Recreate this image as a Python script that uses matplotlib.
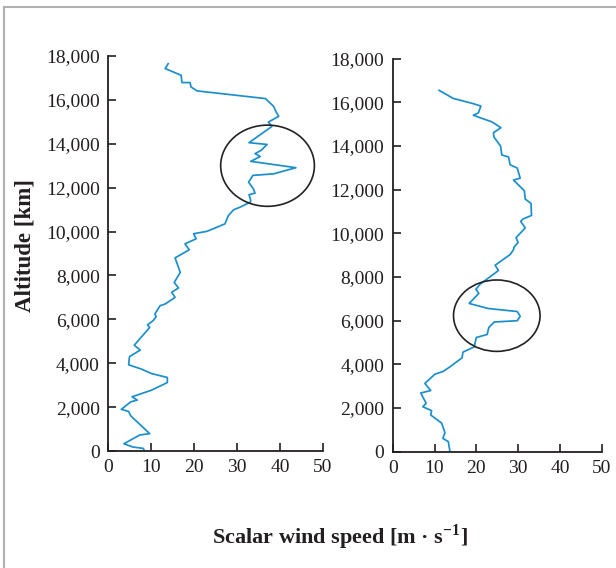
"""
Scalar wind speed profiles vs altitude, two soundings side by side.
Output: out.png
"""

import matplotlib
matplotlib.use('Agg')
import matplotlib.pyplot as plt
from matplotlib.patches import Ellipse
from matplotlib.lines import Line2D
from matplotlib.ticker import FuncFormatter

# ─────────────────────────────────────────────────────────────────────────────
# STYLE
# ─────────────────────────────────────────────────────────────────────────────
plt.rcParams['font.family'] = ['Liberation Serif', 'DejaVu Serif']
plt.rcParams['mathtext.fontset'] = 'custom'
plt.rcParams['mathtext.rm'] = 'Liberation Serif'
plt.rcParams['mathtext.bf'] = 'Liberation Serif:bold'

LINE_COLOR = "#1b8fcc"
TEXT_COLOR = "#231f20"
AXIS_COLOR = "#231f20"
FRAME_COLOR = "#b0b0b0"

# ─────────────────────────────────────────────────────────────────────────────
# DATA
# ─────────────────────────────────────────────────────────────────────────────
left_speed = [8.5, 8.2, 5.8, 3.7, 7.4, 9.7, 5.3, 4.8, 3.1, 5.3, 6.8, 5.6,
              10.1, 13.8, 13.8, 10.1, 7.8, 4.8, 5.0, 7.5, 6.1, 9.7, 9.2,
              10.5, 11.2, 10.9, 12.1, 13.3, 15.6, 14.8, 16.4, 15.4, 16.8,
              15.6, 18.9, 17.9, 20.5, 19.9, 23.0, 27.2, 28.0, 29.2, 30.7,
              33.1, 33.2, 32.8, 34.2, 33.8, 32.7, 33.7, 38.5, 43.7, 33.2,
              35.4, 34.2, 35.6, 37.0, 32.8, 38.1, 37.3, 39.7, 39.1, 38.5,
              36.6, 20.7, 19.3, 19.1, 17.2, 17.0, 13.3, 14.0]
left_alt = [0, 120, 180, 330, 730, 790, 1600, 1800, 1900, 2240, 2320, 2470,
            2770, 3120, 3350, 3530, 3730, 3930, 4300, 4600, 4820, 5630, 5750,
            5940, 6120, 6240, 6620, 6700, 7000, 7230, 7430, 7680, 8140,
            8800, 9170, 9440, 9670, 9900, 10010, 10350, 10730, 10990, 11110,
            11340, 11420, 11680, 11750, 11950, 12250, 12560, 12630, 12910, 13200,
            13420, 13550, 13700, 13970, 14050, 14790, 14990, 15250, 15450, 15710,
            16060, 16410, 16590, 16790, 16790, 17120, 17430, 17650]

right_speed = [13.7, 13.3, 12.0, 12.5, 11.7, 9.1, 9.3, 7.2, 8.0, 6.7, 9.1,
               7.7, 10.1, 12.1, 14.1, 14.9, 16.6, 16.8, 19.5, 20.0, 22.6,
               23.0, 24.3, 29.8, 30.5, 29.8, 22.8, 18.3, 20.6, 19.9, 20.9,
               25.3, 24.5, 28.1, 28.9, 29.0, 30.0, 29.5, 31.7, 30.6, 31.2,
               33.2, 33.1, 31.7, 31.5, 28.9, 30.5, 29.8, 28.1, 27.7, 26.1,
               25.8, 24.2, 24.1, 25.9, 23.7, 21.3, 19.3, 20.5, 21.1, 19.3,
               14.5, 11.1]
right_alt = [0, 460, 610, 870, 1310, 1680, 1880, 2060, 2220, 2690, 2800,
             3130, 3550, 3680, 3940, 4060, 4300, 4560, 4800, 5230, 5370,
             5690, 5940, 6000, 6200, 6420, 6560, 6790, 7250, 7440, 7670,
             8300, 8540, 9030, 9250, 9360, 9590, 9800, 10250, 10550, 10660,
             10820, 11370, 11570, 11950, 12440, 12530, 12990, 13140, 13500, 13590,
             14000, 14420, 14610, 14840, 15110, 15270, 15410, 15520, 15830, 15940,
             16180, 16550]

# highlighted anomalies: (centre speed, centre altitude, width, height)
left_circle = (37.1, 13000, 21.8, 3700)
right_circle = (24.9, 6230, 20.7, 3270)

x_ticks = [0, 10, 20, 30, 40, 50]
y_ticks = [0, 2000, 4000, 6000, 8000, 10000, 12000, 14000, 16000, 18000]


# ─────────────────────────────────────────────────────────────────────────────
# HELPER
# ─────────────────────────────────────────────────────────────────────────────
def style_ax(ax):
    ax.set_xlim(0, 50)
    ax.set_ylim(0, 18000)
    ax.set_xticks(x_ticks)
    ax.set_yticks(y_ticks)
    ax.yaxis.set_major_formatter(FuncFormatter(lambda v, p: f"{int(v):,}"))
    for side in ('top', 'right'):
        ax.spines[side].set_visible(False)
    for side in ('left', 'bottom'):
        ax.spines[side].set_color(AXIS_COLOR)
        ax.spines[side].set_linewidth(1.3)
    ax.tick_params(direction='in', length=6, width=1.2, colors=AXIS_COLOR,
                   labelcolor=TEXT_COLOR, labelsize=14)
    ax.tick_params(axis='y', pad=6)
    ax.tick_params(axis='x', pad=6)
    ax.patch.set_alpha(0)


def draw_circle(ax, c):
    ax.add_patch(Ellipse((c[0], c[1]), c[2], c[3], fill=False,
                         edgecolor="#222222", lw=1.2, zorder=3))


# ─────────────────────────────────────────────────────────────────────────────
# FIGURE
# ─────────────────────────────────────────────────────────────────────────────
fig = plt.figure(figsize=(6.16, 5.68), dpi=100, facecolor='white')

ax1 = fig.add_axes([108 / 616, 1 - 451 / 568, 215 / 616, 395 / 568])
ax2 = fig.add_axes([392.7 / 616, 1 - 451.7 / 568, 209 / 616, 393 / 568])

for ax, sp, alt, circ in ((ax1, left_speed, left_alt, left_circle),
                          (ax2, right_speed, right_alt, right_circle)):
    style_ax(ax)
    ax.plot(sp, alt, color=LINE_COLOR, lw=1.25, zorder=2)
    draw_circle(ax, circ)

fig.text(25 / 616, 1 - 246 / 568, "Altitude [km]", rotation=90,
         ha='center', va='center', fontsize=16.5, fontweight='bold',
         color=TEXT_COLOR)
fig.text(340 / 616, 1 - 537 / 568,
         r"Scalar wind speed [m · s$^{\mathbf{-1}}$]",
         ha='center', va='center', fontsize=16, fontweight='bold',
         color=TEXT_COLOR)

# thin frame (top and left edges visible in the source)
fig.add_artist(Line2D([4 / 616, 4 / 616], [0, 1 - 7 / 568],
                      transform=fig.transFigure, color=FRAME_COLOR, lw=1.5))
fig.add_artist(Line2D([4 / 616, 1], [1 - 7 / 568, 1 - 7 / 568],
                      transform=fig.transFigure, color=FRAME_COLOR, lw=1.5))

fig.savefig("out.png", dpi=100, facecolor='white')
plt.close(fig)
